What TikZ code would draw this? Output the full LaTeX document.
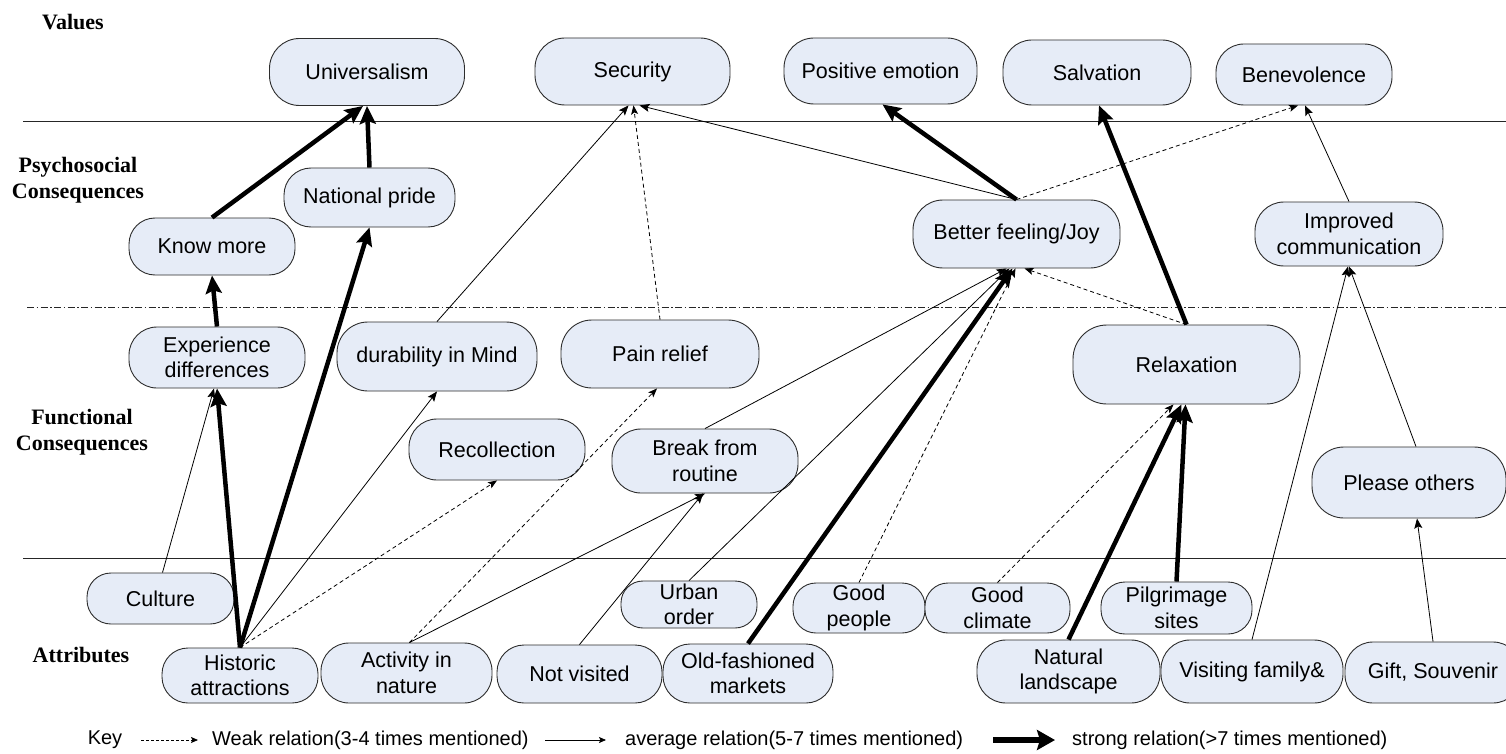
\documentclass[tikz,border=0pt]{standalone}
\usepackage{fontspec}
\setmainfont{Liberation Sans}
\newfontfamily\lvlfont{Liberation Serif}
\usetikzlibrary{arrows.meta}
\definecolor{boxfill}{RGB}{230,236,247}
\definecolor{boxline}{RGB}{45,45,45}
\tikzset{
  box/.style n args={3}{draw=boxline, line width=0.9pt, fill=boxfill, rounded corners=#3pt,
    minimum width=#1pt, minimum height=#2pt, inner sep=0pt, align=center,
    font=\fontsize{21.5}{25.5}\selectfont},
  strong/.style={line width=4.5pt, -{Stealth[length=18pt,width=16pt,inset=3pt]}},
  avg/.style={line width=0.8pt, -{Stealth[length=10pt,width=8pt,inset=2pt]}},
  weak/.style={line width=0.8pt, dash pattern=on 4pt off 3pt, -{Stealth[length=9pt,width=7pt,inset=2pt]}},
  lvl/.style={font=\lvlfont\bfseries\fontsize{22}{26}\selectfont, align=center},
  keytext/.style={font=\fontsize{20}{24}\selectfont, anchor=west, inner sep=0pt},
  sepline/.style={line width=0.9pt, draw=black!85},
}
\begin{document}
\begin{tikzpicture}[x=1pt,y=-1pt]
\useasboundingbox (0,0) rectangle (1506,754);
\fill[white] (0,0) rectangle (1506,754);

% level separators
\coordinate (s1a) at (23,121);  \coordinate (s1b) at (1506,121);
\coordinate (s2a) at (27,307);  \coordinate (s2b) at (1506,307);
\coordinate (s3a) at (23,558);  \coordinate (s3b) at (1506,558);
\draw[sepline] (s1a) -- (s1b);
\draw[sepline, dash pattern=on 7pt off 2.5pt on 1.5pt off 2.5pt] (s2a) -- (s2b);
\draw[sepline] (s3a) -- (s3b);

% level labels
\node[lvl] (lv) at (73,22) {Values};
\node[lvl] (lp) at (78,180) {Psychosocial\\Consequences};
\node[lvl] (lf) at (82,432) {Functional\\Consequences};
\node[lvl] (la) at (81,655) {Attributes};

% values
\node[box={195}{67}{30}] (univ) at (367,72) {Universalism};
\node[box={195}{67}{30}] (sec) at (632.5,71.5) {Security};
\node[box={193}{66}{30}] (pos) at (880.5,71) {Positive emotion};
\node[box={188}{65}{29}] (salv) at (1097,72.5) {Salvation};
\node[box={176}{61}{28}] (benev) at (1304,74.5) {Benevolence};

% psychosocial consequences
\node[box={171}{59}{27}] (natp) at (369.5,197.5) {National pride};
\node[box={166}{57}{26}] (know) at (212,246.5) {Know more};
\node[box={207}{68}{30}] (better) at (1016.5,234) {Better feeling/Joy};
\node[box={188}{64}{29}] (imp) at (1349,234) {Improved\\communication};

% functional consequences
\node[box={176}{61}{28}] (exp) at (217,357.5) {Experience\\differences};
\node[box={200}{69}{31}] (dur) at (437,356.5) {durability in Mind};
\node[box={198}{68}{31}] (pain) at (660,354) {Pain relief};
\node[box={227}{79}{34}] (relax) at (1186.5,364.5) {Relaxation};
\node[box={176}{61}{28}] (rec) at (497,449.5) {Recollection};
\node[box={186}{64}{29}] (brk) at (705,461) {Break from\\routine};
\node[box={194}{71}{32}] (please) at (1409,482.5) {Please others};

% attributes
\node[box={147}{51}{24}] (cult) at (160.5,598.5) {Culture};
\node[box={156}{55}{26}] (hist) at (240,675.5) {Historic\\attractions};
\node[box={171}{60}{28}] (act) at (406.5,673) {Activity in\\nature};
\node[box={136}{47}{22}] (urban) at (689,604.5) {Urban\\order};
\node[box={165}{58}{27}] (notv) at (579.5,674) {Not visited};
\node[box={170}{59}{27}] (oldf) at (748,673.5) {Old-fashioned\\markets};
\node[box={132}{50}{23}] (goodp) at (859,608) {Good\\people};
\node[box={145}{50}{23}] (goodc) at (997.5,608) {Good\\climate};
\node[box={151}{52}{24}] (pilg) at (1176.5,608) {Pilgrimage\\sites};
\node[box={183}{63}{29}] (natl) at (1068.5,671.5) {Natural\\landscape};
\node[box={182}{63}{29}] (visit) at (1252,671.5) {Visiting family\&};
\node[box={176}{61}{28}] (gift) at (1433,672.5) {Gift, Souvenir};

% connectors
\draw[strong] (know.north) -- ([xshift=-4pt]univ.south);
\draw[strong] (natp.north) -- (univ.south);
\draw[strong] (exp.north) -- (know.south);
\draw[strong] (hist.north) -- (exp.south);
\draw[strong] (hist.north) -- (natp.south);
\draw[avg] ([xshift=2pt]cult.north) -- ([xshift=-3pt]exp.south);
\draw[avg] (hist.north) -- (dur.south);
\draw[weak] (hist.north) -- (rec.south);
\draw[avg] (dur.north) -- ([xshift=-4pt]sec.south);
\draw[weak] (pain.north) -- ([xshift=1pt]sec.south);
\draw[avg] (better.north) -- ([xshift=7pt]sec.south);
\draw[strong] (better.north) -- ([xshift=2pt]pos.south);
\draw[weak] (better.north) -- ([xshift=-6pt]benev.south);
\draw[strong] (relax.north) -- ([xshift=2pt]salv.south);
\draw[weak] (relax.north) -- ([xshift=8pt]better.south);
\draw[avg] (imp.north) -- ([xshift=1pt]benev.south);
\draw[weak] ([xshift=3pt]act.north) -- ([xshift=-3pt]pain.south);
\draw[avg] ([xshift=3pt]act.north) -- (brk.south);
\draw[avg] (notv.north) -- ([xshift=-2pt]brk.south);
\draw[avg] (brk.north) -- ([xshift=-10pt]better.south);
\draw[avg] (urban.north) -- ([xshift=-7pt]better.south);
\draw[strong] (oldf.north) -- ([xshift=-4pt]better.south);
\draw[weak] (goodp.north) -- ([xshift=-1pt]better.south);
\draw[weak] (goodc.north) -- ([xshift=-13pt]relax.south);
\draw[strong] (natl.north) -- ([xshift=-5pt]relax.south);
\draw[strong] (pilg.north) -- ([xshift=-1pt]relax.south);
\draw[avg] (visit.north) -- ([xshift=-1pt]imp.south);
\draw[avg] ([xshift=7pt]please.north) -- (imp.south);
\draw[avg] (gift.north) -- ([xshift=8pt]please.south);

% key
\node[font=\fontsize{20}{24}\selectfont] (key) at (105,740) {Key};
\coordinate (kw1) at (141,740); \coordinate (kw2) at (198,740);
\coordinate (ka1) at (545,740); \coordinate (ka2) at (606,740);
\coordinate (ks1) at (993,740); \coordinate (ks2) at (1055,740);
\draw[line width=0.8pt, dash pattern=on 3pt off 2pt, -{Stealth[length=7pt,width=6pt,inset=1.5pt]}] (kw1) -- (kw2);
\draw[line width=0.8pt, -{Stealth[length=7pt,width=6pt,inset=1.5pt]}] (ka1) -- (ka2);
\draw[line width=5.5pt, -{Stealth[length=18pt,width=20pt,inset=3pt]}] (ks1) -- (ks2);
\node[keytext] (kwt) at (212,740) {Weak relation(3-4 times mentioned)};
\node[keytext] (kat) at (625,740) {average relation(5-7 times mentioned)};
\node[keytext] (kst) at (1072,740) {strong relation(>7 times mentioned)};
\end{tikzpicture}
\end{document}
